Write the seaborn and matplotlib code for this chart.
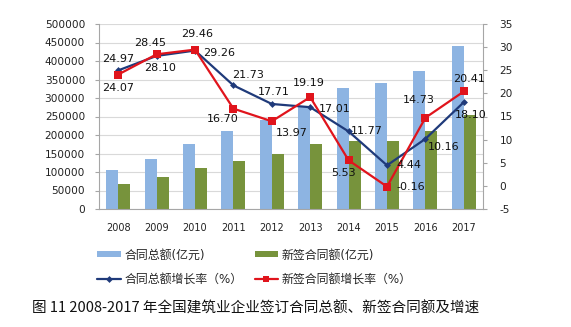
import numpy as np
import pandas as pd
import matplotlib
matplotlib.use("Agg")
import matplotlib.pyplot as plt
from matplotlib.lines import Line2D
from matplotlib.patches import Patch
import seaborn as sns

years = ["2008", "2009", "2010", "2011", "2012", "2013", "2014", "2015", "2016", "2017"]
total_amount = [105000, 134000, 175000, 211000, 241000, 279000, 327000, 340000, 373000, 440000]
new_amount = [67000, 86000, 110000, 130000, 149000, 176000, 184000, 184000, 211000, 254000]
total_growth = [24.97, 28.10, 29.26, 21.73, 17.71, 17.01, 11.77, 4.44, 10.16, 18.10]
new_growth = [24.07, 28.45, 29.46, 16.70, 13.97, 19.19, 5.53, -0.16, 14.73, 20.41]

bar_names = ["合同总额(亿元)", "新签合同额(亿元)"]
line_names = ["合同总额增长率（%）", "新签合同额增长率（%）"]
caption = "图 11 2008-2017 年全国建筑业企业签订合同总额、新签合同额及增速"

left_ticks = list(range(0, 500001, 50000))
right_ticks = list(range(-5, 36, 5))

# label offsets (pixels) for each growth-rate annotation
total_offsets = [(0, 11), (3, -12), (24, -2), (15, 10), (2, 12), (25, -2), (18, 0), (22, 0), (18, -8), (7, -13)]
new_offsets = [(0, -13), (-6, 11), (2, 16), (-11, -10), (20, -12), (-1, 14), (-5, -13), (24, 0), (-7, 18), (5, 12)]

sns.set_theme(style="white")
plt.rcParams["font.family"] = ["DejaVu Sans", "Noto Sans CJK SC"]

BLUE_BAR = "#8DB4E2"
GREEN_BAR = "#77933C"
BLUE_LINE = "#1F3A7A"
RED_LINE = "#E0141C"
GRID = "#D9D9D9"
AXIS = "#A6A6A6"

fig = plt.figure(figsize=(5.71, 3.27), dpi=100)
ax = fig.add_axes([99 / 571, 1 - 209 / 327, 384 / 571, 185 / 327])

bars = pd.DataFrame({
    "year": years * 2,
    "value": total_amount + new_amount,
    "series": [bar_names[0]] * len(years) + [bar_names[1]] * len(years),
})
sns.barplot(data=bars, x="year", y="value", hue="series", ax=ax,
            palette=[BLUE_BAR, GREEN_BAR], width=0.62, gap=0, legend=False,
            saturation=1, linewidth=0, edgecolor="none", zorder=2)

ax.set_ylim(0, 500000)
ax.set_xlim(-0.5, len(years) - 0.5)
ax.set_yticks(left_ticks)
ax.set_yticklabels([str(v) for v in left_ticks], fontsize=7.6, color="#222222")
ax.yaxis.grid(True, color=GRID, linewidth=0.8, zorder=0)
ax.set_axisbelow(True)
ax.set_xlabel("")
ax.set_ylabel("")
ax.set_xticks(range(len(years)))
ax.set_xticklabels(years, fontsize=7.0, color="#222222")
ax.set_xticks(np.arange(-0.5, len(years), 1.0), minor=True)
ax.tick_params(axis="x", which="major", length=0, pad=10)
ax.tick_params(axis="x", which="minor", length=4, color=AXIS, width=0.8, direction="out")
ax.tick_params(axis="y", length=3, color=AXIS, width=0.8, pad=7, direction="out", left=True)
for side in ["top", "right"]:
    ax.spines[side].set_visible(False)
for side in ["left", "bottom"]:
    ax.spines[side].set_color(AXIS)
    ax.spines[side].set_linewidth(0.8)

ax2 = ax.twinx()
lines = pd.DataFrame({"pos": np.arange(len(years)), "total": total_growth, "new": new_growth})
sns.lineplot(data=lines, x="pos", y="total", ax=ax2, color=BLUE_LINE, linewidth=1.6,
             marker="D", markersize=3.5, markeredgewidth=0, zorder=4)
sns.lineplot(data=lines, x="pos", y="new", ax=ax2, color=RED_LINE, linewidth=1.6,
             marker="s", markersize=5.5, markeredgewidth=0, zorder=5)
ax2.set_ylim(-5, 35)
ax2.set_yticks(right_ticks)
ax2.set_yticklabels([str(v) for v in right_ticks], fontsize=7.6, color="#222222")
ax2.set_xlim(-0.5, len(years) - 0.5)
ax2.set_xlabel("")
ax2.set_ylabel("")
ax2.grid(False)
ax2.tick_params(axis="y", length=3, color=AXIS, width=0.8, pad=9, direction="out", right=True)
for side in ["top", "left", "bottom"]:
    ax2.spines[side].set_visible(False)
ax2.spines["right"].set_color(AXIS)
ax2.spines["right"].set_linewidth(0.8)

for i in range(len(years)):
    for vals, offs in ((total_growth, total_offsets), (new_growth, new_offsets)):
        dx, dy = offs[i]
        ax2.annotate(f"{vals[i]:.2f}", (i, vals[i]), xytext=(dx, dy),
                     textcoords="offset pixels", ha="center", va="center",
                     fontsize=8, color="#111111", zorder=6)

handles = [
    Patch(facecolor=BLUE_BAR, edgecolor="none", linewidth=0),
    Line2D([0], [0], color=BLUE_LINE, linewidth=1.6, marker="D", markersize=3.5, markeredgewidth=0),
    Patch(facecolor=GREEN_BAR, edgecolor="none", linewidth=0),
    Line2D([0], [0], color=RED_LINE, linewidth=1.6, marker="s", markersize=4.5, markeredgewidth=0),
]
labels = [bar_names[0], line_names[0], bar_names[1], line_names[1]]
fig.legend(handles, labels, ncol=2, loc="center left",
           bbox_to_anchor=(97 / 571, 1 - 267 / 327), frameon=False,
           fontsize=8.6, handlelength=2.0, handleheight=0.45, handletextpad=0.3,
           columnspacing=1.0, labelspacing=0.95, borderaxespad=0, borderpad=0)

fig.text(32 / 571, 1 - 309 / 327, caption, fontsize=10.5, va="center", ha="left",
         family=["Noto Sans CJK SC", "DejaVu Sans"], color="#111111")

fig.savefig("out.png", dpi=100, facecolor="white")
